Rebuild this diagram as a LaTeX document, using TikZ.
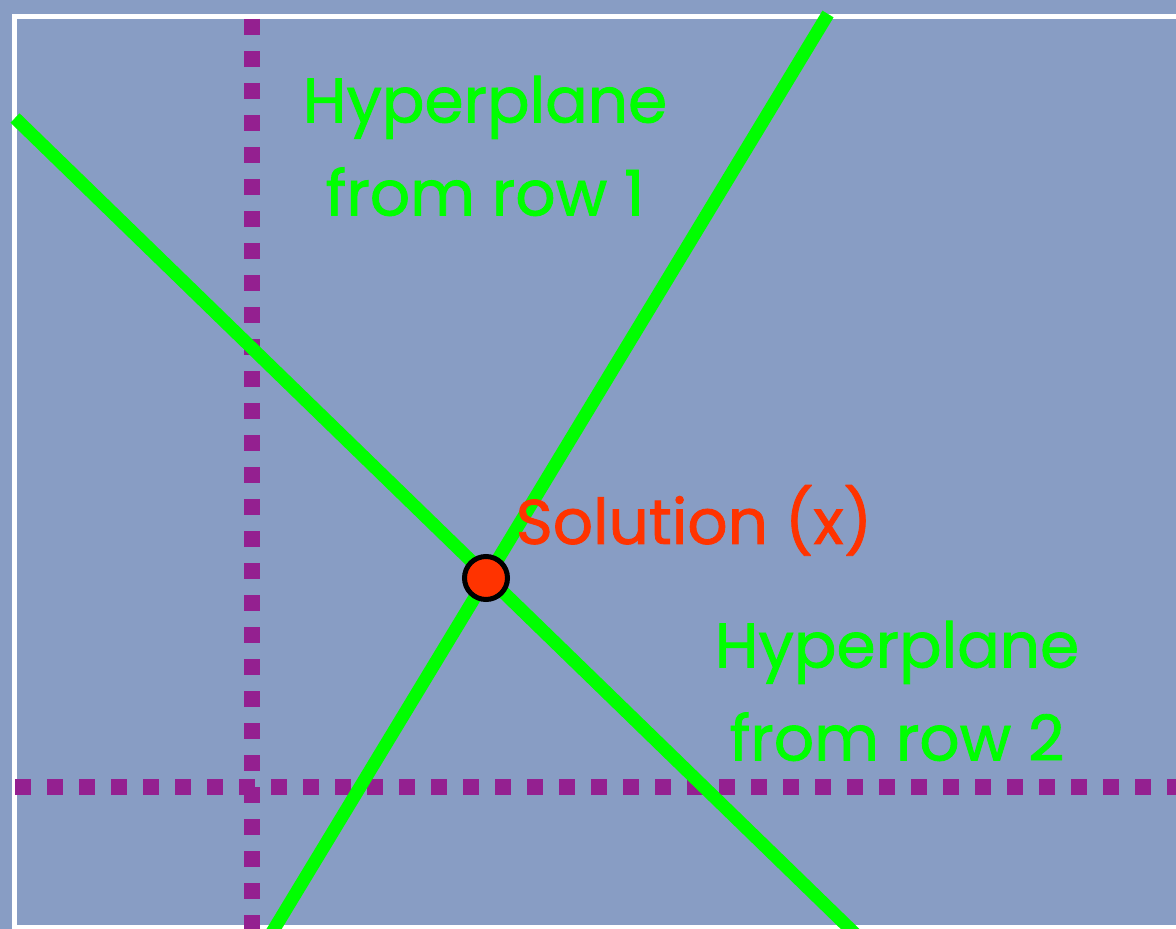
\documentclass[tikz,border=0pt]{standalone}
\usepackage{fontspec}
\setmainfont{Poppins}[FakeBold=1.3]
\definecolor{slate}{RGB}{136,157,196}
\definecolor{plum}{RGB}{148,32,144}
\definecolor{hypgreen}{RGB}{0,255,0}
\definecolor{solred}{RGB}{255,51,0}
\tikzset{
  axisline/.style={plum,line width=8pt,dash pattern=on 8pt off 8pt},
  hypline/.style={hypgreen,line width=6.5pt},
  hyplabel/.style={hypgreen,align=center,inner sep=0pt},
  soldot/.style={circle,draw=black,fill=solred,line width=2.5pt,minimum size=21.5pt,inner sep=0pt}
}
\begin{document}
\begin{tikzpicture}[x=0.5pt,y=-0.5pt,font=\fontsize{31.5}{46.5}\selectfont]
\useasboundingbox (0,0) rectangle (1176,929);
\fill[slate] (0,0) rectangle (1176,929);
\begin{scope}
\clip (0,0) rectangle (1176,929);
\draw[white,line width=2.5pt] (14.5,16.5) rectangle (1200,927.5);
% axes
\draw[axisline] (252,19) -- (252,950);
\draw[axisline] (15,787) -- (1200,787);
% the two hyperplanes
\draw[hypline] (15,118) -- (880,958);
\draw[hypline] (828,14) -- (265,944);
\end{scope}
\node[soldot] (sol) at (486,578) {};
\node[hyplabel] (row1) at (485,146) {Hyperplane\\from row 1};
\node[hyplabel] (row2) at (897,691) {Hyperplane\\from row 2};
\node[solred,inner sep=0pt,anchor=base] (soltext) at (694,544) {Solution (x)};
\end{tikzpicture}
\end{document}
